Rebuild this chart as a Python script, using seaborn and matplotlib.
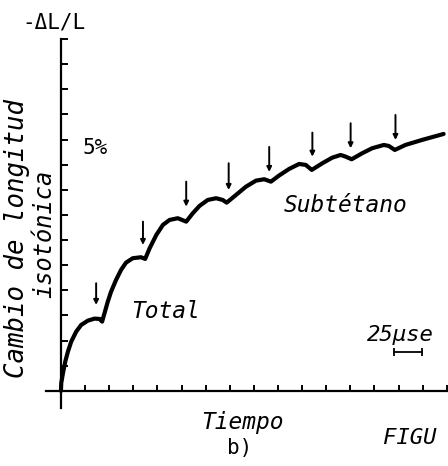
import matplotlib
matplotlib.use("Agg")
import matplotlib.pyplot as plt
import seaborn as sns
import pandas as pd

# ---- data (x in time-tick units, y in length-tick units) ----
curve_x = [0.0, 0.012, 0.083, 0.178, 0.289, 0.426, 0.632, 0.839, 1.116,
           1.393, 1.599, 1.707,
           1.806, 1.942, 2.079, 2.285, 2.492, 2.698, 2.975, 3.318, 3.492,
           3.678, 3.955, 4.227, 4.504, 4.847, 5.194,
           5.467, 5.744, 6.087, 6.434, 6.707, 6.872,
           7.260, 7.674, 8.087, 8.430, 8.707,
           9.050, 9.463, 9.876, 10.153, 10.401,
           10.839, 11.252, 11.599, 11.806, 12.054,
           12.492, 12.905, 13.388, 13.595, 13.843,
           14.285, 14.971, 15.868]
curve_y = [0.0, 0.306, 0.704, 1.165, 1.563, 1.961, 2.359, 2.625, 2.796,
           2.876, 2.864, 2.757,
           3.091, 3.552, 3.950, 4.415, 4.813, 5.103, 5.278, 5.318, 5.251,
           5.676, 6.205, 6.603, 6.802, 6.870, 6.734,
           7.068, 7.359, 7.597, 7.665, 7.597, 7.490,
           7.797, 8.127, 8.365, 8.421, 8.325,
           8.572, 8.831, 9.029, 8.990, 8.791,
           9.057, 9.280, 9.387, 9.320, 9.216,
           9.455, 9.654, 9.785, 9.745, 9.586,
           9.785, 9.984, 10.223]

arrow_x = [1.459, 3.401, 5.194, 6.955, 8.636, 10.426, 12.012, 13.872]
arrow_top = [4.284, 6.734, 8.325, 9.057, 9.706, 10.275, 10.648, 10.979]
arrow_tip = [3.421, 5.807, 7.331, 7.995, 8.711, 9.320, 9.654, 9.984]

x_ticks = list(range(1, 17))
y_ticks = list(range(1, 15))

scale_bar_x = [13.80, 14.96]
scale_bar_y = [1.55, 1.55]

y_label_1 = "Cambio de longitud"
y_label_2 = "isotónica"
top_label = "-ΔL/L"
x_label = "Tiempo"
label_total = "Total"
label_sub = "Subtétano"
label_pct = "5%"
label_scale = "25μse"
label_panel = "b)"
label_fig = "FIGU"

# ---- plotting ----
sns.set_style("white")
plt.rcParams["font.family"] = ["DejaVu Sans Mono", "DejaVu Sans"]

W, H = 448, 466
fig = plt.figure(figsize=(W / 100, H / 100), dpi=100)
ax = fig.add_axes([46 / W, 58 / H, 402 / W, 369 / H])

df = pd.DataFrame({"t": curve_x, "v": curve_y})
sns.lineplot(data=df, x="t", y="v", ax=ax, sort=False, estimator=None,
             color="black", linewidth=3.0, solid_joinstyle="round",
             solid_capstyle="round")

for xa, yt, yb in zip(arrow_x, arrow_top, arrow_tip):
    ax.annotate("", xy=(xa, yb), xytext=(xa, yt),
                arrowprops=dict(arrowstyle="-|>", color="black", lw=1.4,
                                mutation_scale=7, shrinkA=0, shrinkB=0))

ax.plot(scale_bar_x, scale_bar_y, color="black", lw=1.3, marker="|",
        markersize=6, markeredgewidth=1.3)

ax.set_xlim(-0.62, 16.05)
ax.set_ylim(-0.68, 14.0)
for s in ["top", "right"]:
    ax.spines[s].set_visible(False)
ax.spines["left"].set_position(("data", 0))
ax.spines["bottom"].set_position(("data", 0))
for s in ["left", "bottom"]:
    ax.spines[s].set_linewidth(1.6)
    ax.spines[s].set_color("black")

ax.set_xticks(x_ticks)
ax.set_yticks(y_ticks)
ax.set_xticklabels([])
ax.set_yticklabels([])
ax.tick_params(axis="x", direction="in", length=4, width=1.4, color="black",
               bottom=True)
ax.tick_params(axis="y", direction="in", length=5, width=1.4, color="black",
               left=True)
ax.set_xlabel("")
ax.set_ylabel("")
ax.patch.set_alpha(0)


def ftxt(px, py, s, **kw):
    fig.text(px / W, 1 - py / H, s, color="black", **kw)


ftxt(54, 22, top_label, fontsize=15, ha="center", va="center")
ftxt(17, 238, y_label_1, fontsize=18.5, ha="center", va="center",
     rotation=90, style="italic")
ftxt(44, 234, y_label_2, fontsize=17, ha="center", va="center",
     rotation=90, style="italic")
ftxt(95, 148, label_pct, fontsize=15, ha="center", va="center")
ftxt(166, 312, label_total, fontsize=16.5, ha="center", va="center",
     style="italic")
ftxt(346, 206, label_sub, fontsize=16.5, ha="center", va="center",
     style="italic")
ftxt(367, 335, label_scale, fontsize=16, ha="left", va="center",
     style="italic")
ftxt(242, 422, x_label, fontsize=16.5, ha="center", va="center",
     style="italic")
ftxt(240, 448, label_panel, fontsize=15, ha="center", va="center")
ftxt(383, 438, label_fig, fontsize=16, ha="left", va="center",
     style="italic")

fig.savefig("out.png", dpi=100, facecolor="white")
